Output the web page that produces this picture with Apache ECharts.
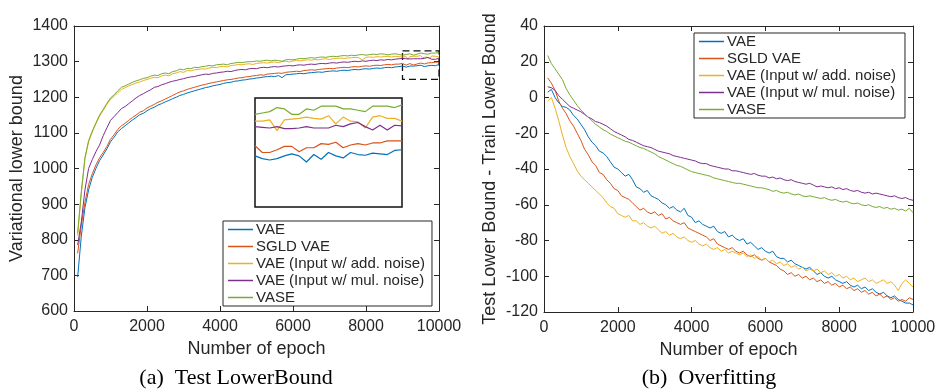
<!DOCTYPE html>
<html>
<head>
<meta charset="utf-8">
<script src="https://cdn.jsdelivr.net/npm/echarts@6/dist/echarts.min.js"></script>
<style>
html,body{margin:0;padding:0;background:#fff;}
#chart{width:935px;height:391px;}
</style>
</head>
<body>
<div id="chart"></div>
<script>
// ---------- names, colours ----------
const seriesNames = ['VAE', 'SGLD VAE', 'VAE (Input w/ add. noise)', 'VAE (Input w/ mul. noise)', 'VASE'];
const seriesColors = ['#0072BD', '#D95319', '#EDB120', '#7E2F8E', '#77AC30'];

// ---------- (a) Test LowerBound: epochs 100..8900 step 100 ----------
const lbVae = [
  695, 810, 890, 940, 975, 1000, 1022, 1038, 1055, 1075,
  1088, 1103, 1112, 1120, 1128, 1136, 1143, 1151, 1155, 1162,
  1168, 1172, 1178, 1182, 1187, 1191, 1196, 1200, 1205, 1208,
  1212, 1215, 1218, 1221, 1224, 1227, 1229, 1232, 1234, 1236,
  1239, 1241, 1242, 1245, 1246, 1248, 1249, 1251, 1252, 1254,
  1255, 1257, 1258, 1259, 1258, 1261, 1255, 1263, 1264, 1265,
  1266, 1267, 1266, 1268, 1269, 1270, 1271, 1270, 1272, 1273,
  1274, 1273, 1275, 1276, 1275, 1277, 1278, 1277, 1279, 1280,
  1279, 1281, 1282, 1281, 1283, 1284, 1283, 1285, 1286
];
const lbSgld = [
  762, 840, 905, 955, 985, 1010, 1030, 1045, 1062, 1082,
  1095, 1110, 1120, 1127, 1135, 1143, 1150, 1158, 1162, 1170,
  1175, 1180, 1186, 1190, 1195, 1200, 1205, 1210, 1215, 1218,
  1222, 1225, 1228, 1231, 1234, 1236, 1239, 1241, 1243, 1245,
  1247, 1249, 1250, 1252, 1254, 1255, 1257, 1258, 1260, 1261,
  1263, 1262, 1265, 1266, 1267, 1268, 1267, 1270, 1271, 1272,
  1273, 1272, 1275, 1276, 1277, 1276, 1278, 1279, 1280, 1281,
  1280, 1282, 1283, 1284, 1283, 1285, 1286, 1285, 1287, 1288,
  1287, 1289, 1290, 1289, 1291, 1292, 1291, 1293, 1293
];
const lbAdd = [
  812, 930, 1028, 1075, 1102, 1125, 1147, 1163, 1180, 1194,
  1203, 1213, 1222, 1227, 1232, 1236, 1240, 1243, 1247, 1250,
  1253, 1256, 1255, 1260, 1262, 1260, 1266, 1268, 1272, 1270,
  1275, 1274, 1277, 1278, 1280, 1279, 1282, 1284, 1283, 1286,
  1287, 1285, 1289, 1290, 1292, 1291, 1293, 1294, 1292, 1295,
  1296, 1297, 1296, 1298, 1299, 1297, 1300, 1301, 1299, 1302,
  1303, 1302, 1304, 1305, 1304, 1306, 1305, 1307, 1308, 1306,
  1308, 1309, 1310, 1309, 1310, 1311, 1312, 1311, 1305, 1312,
  1313, 1312, 1314, 1313, 1314, 1315, 1313, 1315, 1314
];
const lbMul = [
  785, 850, 940, 1000, 1025, 1047, 1066, 1092, 1114, 1135,
  1146, 1157, 1168, 1174, 1182, 1190, 1198, 1205, 1210, 1216,
  1221, 1228, 1230, 1235, 1238, 1242, 1245, 1247, 1250, 1252,
  1255, 1257, 1258, 1261, 1263, 1265, 1264, 1267, 1268, 1270,
  1271, 1273, 1272, 1275, 1277, 1278, 1277, 1280, 1281, 1280,
  1283, 1284, 1283, 1285, 1286, 1285, 1287, 1288, 1289, 1288,
  1290, 1291, 1290, 1292, 1293, 1292, 1294, 1295, 1294, 1296,
  1297, 1296, 1298, 1299, 1298, 1300, 1301, 1300, 1302, 1301,
  1303, 1304, 1303, 1305, 1304, 1306, 1305, 1307, 1308
];
const lbVase = [
  819, 935, 1030, 1078, 1105, 1128, 1150, 1166, 1183, 1198,
  1207, 1218, 1228, 1232, 1237, 1242, 1246, 1249, 1253, 1255,
  1259, 1262, 1261, 1266, 1268, 1266, 1272, 1274, 1279, 1277,
  1281, 1280, 1284, 1283, 1286, 1287, 1289, 1288, 1291, 1292,
  1293, 1291, 1295, 1296, 1298, 1297, 1299, 1300, 1300, 1302,
  1301, 1303, 1304, 1302, 1304, 1303, 1301, 1305, 1306, 1305,
  1307, 1309, 1308, 1310, 1311, 1310, 1312, 1313, 1312, 1314,
  1315, 1314, 1316, 1317, 1316, 1318, 1317, 1319, 1320, 1318,
  1320, 1321, 1320, 1322, 1321, 1319, 1321, 1322, 1320
];
// ---------- (a) tail, epochs 9000..10000 step 50 (also drawn in the inset) ----------
const tailVae  = [1287.5, 1285.5, 1284.5, 1285.5, 1287.5, 1289, 1287.5, 1283, 1288.5, 1285, 1290, 1287.5, 1286, 1290, 1288.5, 1288, 1289.5, 1289, 1288.5, 1291.5, 1292];
const tailSgld = [1295, 1290, 1290, 1292, 1294.5, 1294.5, 1290.5, 1293.5, 1293.5, 1296.5, 1296, 1297.5, 1293.5, 1295.5, 1296.5, 1295.5, 1297, 1297, 1298.5, 1298.5, 1298.5];
const tailAdd  = [1313, 1313, 1314, 1306, 1314, 1314.5, 1315, 1316, 1315, 1314.5, 1317, 1311, 1316, 1313, 1312.5, 1308, 1316, 1317, 1315, 1315, 1313];
const tailMul  = [1309, 1308.5, 1308, 1309, 1307.5, 1307.5, 1308, 1309, 1308, 1308, 1308, 1310, 1309, 1311, 1312, 1309, 1306.5, 1310, 1306.5, 1310, 1309.5];
const tailVase = [1318, 1319, 1320, 1323, 1322, 1318, 1318, 1322, 1321, 1324, 1324, 1324, 1322, 1322, 1321, 1320, 1324, 1324, 1324, 1323, 1325];

// ---------- (b) Overfitting: epochs 100..10000 step 100 ----------
const ofVae = [
  3, 4.5, 0, -3, -5, -5.5, -7, -10, -12, -15,
  -18, -22, -25, -27, -30, -31, -33, -36, -39, -40,
  -42, -44, -43, -46, -50, -51, -53, -52, -55, -56,
  -57, -59, -60, -62, -61, -63, -64, -62, -66, -67,
  -70, -69, -71, -72, -73, -72, -75, -76, -75, -78,
  -77, -79, -80, -79, -82, -81, -83, -85, -84, -86,
  -87, -86, -89, -90, -90, -92, -91, -93, -94, -95,
  -96, -95, -97, -99, -98, -100, -101, -100, -102, -103,
  -104, -103, -105, -106, -105, -107, -106, -108, -107, -109,
  -110, -109, -111, -112, -111, -113, -114, -115, -115, -116
];
const ofSgld = [
  11, 8, 4, -2, -6, -9, -13, -16, -20, -24,
  -29, -32, -36, -38, -42, -43, -46, -48, -51, -52,
  -55, -56, -57, -59, -61, -63, -62, -64, -65, -64,
  -66, -65, -68, -67, -69, -70, -71, -70, -73, -74,
  -75, -76, -77, -78, -80, -79, -82, -83, -84, -85,
  -84, -86, -87, -86, -88, -89, -88, -90, -91, -90,
  -92, -93, -94, -96, -97, -99, -98, -100, -99, -101,
  -100, -102, -101, -103, -102, -104, -103, -105, -104, -106,
  -105, -107, -106, -108, -107, -109, -108, -110, -109, -111,
  -110, -112, -111, -113, -112, -114, -113, -114, -112, -113
];
const ofAdd = [
  -2, 0, -6, -13, -21, -28, -33, -37, -41, -44,
  -46, -48, -50, -52, -54, -56, -59, -61, -62, -65,
  -66, -67, -66, -69, -69, -71, -70, -72, -73, -72,
  -74, -76, -75, -77, -76, -78, -79, -78, -80, -81,
  -80, -82, -83, -82, -84, -85, -84, -86, -85, -87,
  -86, -87, -88, -87, -89, -88, -90, -89, -91, -90,
  -92, -91, -93, -92, -94, -93, -95, -94, -96, -95,
  -97, -96, -97, -96, -98, -97, -99, -98, -100, -99,
  -101, -100, -102, -101, -103, -102, -101, -103, -102, -104,
  -103, -102, -104, -103, -105, -108, -104, -102, -104, -106
];
const ofMul = [
  6, 5.5, 4, 1, -1, -3, -5, -6, -7, -8,
  -9.5, -11, -12, -13.5, -14, -15, -16, -17.5, -19, -20,
  -21, -22, -23.5, -24, -25, -26, -27, -27.5, -28, -29,
  -30, -30.5, -31, -31.5, -32.5, -33, -33.5, -34, -34.5, -35,
  -35.5, -36.5, -37, -37, -38, -38.5, -39, -39.5, -40, -40,
  -41, -41, -41.5, -42, -42.5, -43, -42.5, -43.5, -44, -44,
  -45, -44.5, -45.5, -45, -46, -46.5, -46, -47, -47.5, -48,
  -48.5, -48, -49, -50, -49.5, -50, -50.5, -50, -51, -50.5,
  -51.5, -51, -52, -52.5, -52, -53, -53.5, -53, -54, -53.5,
  -54, -54.5, -55, -55.5, -55, -56, -56.5, -56, -57, -57.5
];
const ofVase = [
  23.5, 19, 16, 13, 10, 5, 1.5, -1.5, -4.5, -7,
  -9, -11, -13, -15, -16.5, -18, -19, -20.5, -21.5, -22.5,
  -23.5, -24.5, -25, -26, -27, -28, -28.5, -29.5, -30.5, -31.5,
  -33, -34, -35, -36, -37, -38, -38.5, -39.5, -40.5, -41.5,
  -42, -42.5, -43, -43.5, -44, -45, -45.5, -46, -46.5, -47,
  -47.5, -48, -48, -48.5, -49, -49.5, -50, -50.5, -50.5, -51,
  -51.5, -52.5, -52, -53, -53.5, -53, -54, -54.5, -54, -55,
  -55.5, -55, -55.5, -56, -56.5, -56, -57, -57.5, -57, -58,
  -58.5, -58, -59, -59.5, -59, -60, -60.5, -60, -61, -61.5,
  -61, -62, -61.5, -62.5, -62, -63, -62.5, -63.5, -62, -64.5
];

// ---------- axis ranges / zoom window ----------
const epochRange = [0, 10000];
const lbRange = [600, 1400];
const ofRange = [-120, 40];
const zoomEpochs = [9000, 10000];
const zoomBound = [1250, 1330];

// sampling grids of the logged epochs
const epochsHead = [];
for (let e = 100; e <= 8900; e += 100) epochsHead.push(e);
const epochsTail = [];
for (let e = 9000; e <= 10000; e += 50) epochsTail.push(e);
const epochsOf = [];
for (let e = 100; e <= 10000; e += 100) epochsOf.push(e);

const pair = (xs, ys) => xs.map((x, i) => [x, ys[i]]);
const epochsLb = epochsHead.concat(epochsTail);
const lbSets = [lbVae.concat(tailVae), lbSgld.concat(tailSgld), lbAdd.concat(tailAdd), lbMul.concat(tailMul), lbVase.concat(tailVase)];
const tailSets = [tailVae, tailSgld, tailAdd, tailMul, tailVase];
const ofSets = [ofVae, ofSgld, ofAdd, ofMul, ofVase];

const FONT = "'Liberation Sans', Arial, Helvetica, sans-serif";
const AX = '#262626';
const plain = v => String(v);

function mainX(grid, pos, labels, name) {
  return {
    type: 'value', gridIndex: grid, position: pos, min: epochRange[0], max: epochRange[1], interval: 2000,
    axisLine: { show: true, onZero: false, lineStyle: { color: AX, width: 1 } },
    axisTick: { show: true, inside: true, length: 5, lineStyle: { color: AX } },
    axisLabel: { show: labels, color: AX, fontSize: 16, fontFamily: FONT, margin: 8, formatter: plain },
    splitLine: { show: false },
    name: labels ? name : '', nameLocation: 'middle', nameGap: 25,
    nameTextStyle: { color: AX, fontSize: 18, fontFamily: FONT }
  };
}
function mainY(grid, pos, labels, range, interval, name, gap) {
  return {
    type: 'value', gridIndex: grid, position: pos, min: range[0], max: range[1], interval: interval,
    axisLine: { show: true, onZero: false, lineStyle: { color: AX, width: 1 } },
    axisTick: { show: true, inside: true, length: 5, lineStyle: { color: AX } },
    axisLabel: { show: labels, color: AX, fontSize: 16, fontFamily: FONT, margin: 6, formatter: plain },
    splitLine: { show: false },
    name: labels ? name : '', nameLocation: 'middle', nameGap: gap,
    nameTextStyle: { color: AX, fontSize: 18, fontFamily: FONT }
  };
}

const series = [];
seriesNames.forEach((nm, i) => {
  const s = {
    name: nm, type: 'line', xAxisIndex: 0, yAxisIndex: 0,
    data: pair(epochsLb, lbSets[i]), symbol: 'none', showSymbol: false,
    lineStyle: { color: seriesColors[i], width: 1 }, itemStyle: { color: seriesColors[i] },
    animation: false, z: 2
  };
  if (i === 0) {
    s.markArea = {
      silent: true,
      itemStyle: { color: 'rgba(0,0,0,0)', borderColor: '#111', borderWidth: 1.3, borderType: [7, 4] },
      data: [[{ coord: [zoomEpochs[0], zoomBound[1]] }, { coord: [zoomEpochs[1], zoomBound[0]] }]]
    };
  }
  series.push(s);
});
seriesNames.forEach((nm, i) => {
  series.push({
    name: nm, type: 'line', xAxisIndex: 4, yAxisIndex: 4,
    data: pair(epochsTail, tailSets[i]), symbol: 'none', showSymbol: false,
    lineStyle: { color: seriesColors[i], width: 1.2 }, itemStyle: { color: seriesColors[i] },
    animation: false, z: 5
  });
});
seriesNames.forEach((nm, i) => {
  series.push({
    name: nm, type: 'line', xAxisIndex: 2, yAxisIndex: 2,
    data: pair(epochsOf, ofSets[i]), symbol: 'none', showSymbol: false,
    lineStyle: { color: seriesColors[i], width: 1 }, itemStyle: { color: seriesColors[i] },
    animation: false, z: 2
  });
});

const legendBase = {
  orient: 'vertical', data: seriesNames, icon: 'rect', itemWidth: 25, itemHeight: 1.5, itemGap: 0,
  borderColor: AX, borderWidth: 1, backgroundColor: '#fff',
  textStyle: { color: AX, fontSize: 15, fontFamily: FONT, lineHeight: 17, padding: [0, 0, 0, -2] },
  selectedMode: false, z: 10
};

const option = {
  animation: false,
  backgroundColor: '#fff',
  grid: [
    { left: 74, top: 26, width: 365, height: 285, outerBoundsMode: 'none', containLabel: false },
    { left: 544, top: 26, width: 369, height: 286, outerBoundsMode: 'none', containLabel: false },
    { left: 255, top: 98, width: 147, height: 109, outerBoundsMode: 'none', containLabel: false,
      show: true, borderColor: '#111', borderWidth: 1.5, backgroundColor: '#fff', z: 4 }
  ],
  xAxis: [
    mainX(0, 'bottom', true, 'Number of epoch'),
    mainX(0, 'top', false, ''),
    mainX(1, 'bottom', true, 'Number of epoch'),
    mainX(1, 'top', false, ''),
    { type: 'value', gridIndex: 2, min: zoomEpochs[0], max: zoomEpochs[1], show: false }
  ],
  yAxis: [
    mainY(0, 'left', true, lbRange, 100, 'Variational lower bound', 48),
    mainY(0, 'right', false, lbRange, 100, '', 0),
    mainY(1, 'left', true, ofRange, 20, 'Test Lower Bound - Train Lower Bound', 45),
    mainY(1, 'right', false, ofRange, 20, '', 0),
    { type: 'value', gridIndex: 2, min: zoomBound[0], max: zoomBound[1], show: false }
  ],
  legend: [
    Object.assign({}, legendBase, { left: 223, top: 221, padding: [0, 7, 0, 5] }),
    Object.assign({}, legendBase, { left: 694, top: 33, padding: [0, 9, 0, 5] })
  ],
  graphic: [
    { type: 'text', x: 236, y: 378, style: { text: '(a)  Test LowerBound', font: "22px 'Liberation Serif', 'Times New Roman', serif", fill: '#000', textAlign: 'center', textVerticalAlign: 'middle' } },
    { type: 'text', x: 709, y: 378, style: { text: '(b)  Overfitting', font: "22px 'Liberation Serif', 'Times New Roman', serif", fill: '#000', textAlign: 'center', textVerticalAlign: 'middle' } }
  ],
  series: series
};

const chart = echarts.init(document.getElementById('chart'), null, { renderer: 'canvas' });
chart.setOption(option);
</script>
</body>
</html>
